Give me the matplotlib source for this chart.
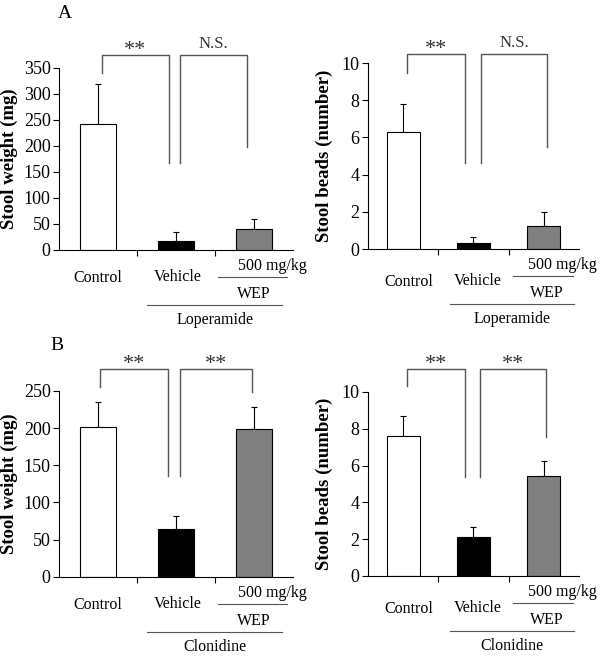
import numpy as np
import matplotlib
matplotlib.use("Agg")
import matplotlib.pyplot as plt
from matplotlib.transforms import blended_transform_factory, offset_copy

plt.rcParams['font.family'] = ['Liberation Serif', 'DejaVu Serif']

# --- data ---
groups = ["Control", "Vehicle", "WEP"]
bar_colors = ["white", "black", "#808080"]

weight_lop = [243, 18, 40]
weight_lop_err = [76, 17, 20]
beads_lop = [6.3, 0.3, 1.24]
beads_lop_err = [1.48, 0.33, 0.73]

weight_clo = [202, 64, 199]
weight_clo_err = [33, 18, 30]
beads_clo = [7.62, 2.14, 5.45]
beads_clo_err = [1.08, 0.54, 0.82]

# significance marks: (label, x0, x1, bracket y, left leg end, right leg end)
sig_weight_lop = [("**", 0.05, 0.91, 375, 340, 167), ("N.S.", 1.05, 1.91, 375, 167, 198)]
sig_beads_lop = [("**", 0.055, 0.88, 10.47, 9.46, 4.6), ("N.S.", 1.11, 2.05, 10.47, 4.6, 5.5)]
sig_weight_clo = [("**", 0.03, 0.90, 279.5, 255, 135), ("**", 1.05, 1.97, 279.5, 135, 249)]
sig_beads_clo = [("**", 0.05, 0.88, 11.25, 10.3, 5.4), ("**", 1.09, 2.03, 11.25, 5.4, 7.54)]

fig = plt.figure(figsize=(6, 6.56), dpi=100)

LINE_GRAY = "#555555"


def draw_panel(ax, means, errs, ymax, ystep, ylabel, sigs, treatment, side):
    x = np.arange(len(groups))
    ax.bar(x, means, width=0.47, color=bar_colors, edgecolor="black", linewidth=0.8, zorder=2)
    ax.errorbar(x, means, yerr=[np.zeros(len(errs)), errs], fmt="none",
                ecolor="black", elinewidth=0.8, capsize=2.2, capthick=0.8, zorder=1)
    ax.set_xlim(-0.5, 2.5)
    ax.set_ylim(0, ymax)
    ax.set_yticks(np.arange(0, ymax + ystep / 2, ystep))
    ax.set_xticks([0.5, 1.5])
    ax.set_xticklabels([])
    ax.tick_params(axis="x", direction="out", length=4, width=0.8)
    ax.tick_params(axis="y", direction="out", length=4, width=0.8, labelsize=13, pad=2)
    for s in ["top", "right"]:
        ax.spines[s].set_visible(False)
    for s in ["left", "bottom"]:
        ax.spines[s].set_linewidth(0.8)
    ax.set_ylabel(ylabel, fontsize=13.5, fontweight="bold")
    if side == "left":
        ax.yaxis.set_label_coords(-0.175, 0.5)
    else:
        ax.yaxis.set_label_coords(-0.166, 0.5)

    # significance brackets
    for lab, x0, x1, h, l0, l1 in sigs:
        ax.plot([x0, x0, x1, x1], [l0, h, h, l1], color=LINE_GRAY, lw=1.0, clip_on=False)
        if lab == "**":
            ax.annotate(lab, ((x0 + x1) / 2, h), xytext=(0, 0), textcoords="offset pixels",
                        ha="center", va="baseline", fontsize=16, color="#333333",
                        annotation_clip=False)
        else:
            ax.annotate(lab, ((x0 + x1) / 2, h), xytext=(0, 7), textcoords="offset pixels",
                        ha="center", va="baseline", fontsize=12, color="#333333",
                        annotation_clip=False)

    # group labels below the axis
    trans = blended_transform_factory(ax.transData, ax.transAxes)

    def at(dy):
        return offset_copy(trans, fig=fig, x=0, y=-dy, units="dots")

    if side == "left":
        cx, vx, d_cv = 0.0, 1.02, 28
        dose_x, dose_line, wep_x = 2.24, (1.54, 2.42), 2.0
        tr_line, tr_x = (0.63, 2.36), 1.5
    else:
        cx, vx, d_cv = 0.08, 1.06, 33
        dose_x, dose_line, wep_x = 2.27, (1.56, 2.42), 2.04
        tr_line, tr_x = (0.67, 2.43), 1.55
    fs = 11.5
    ax.text(cx, 0, groups[0], transform=at(d_cv), ha="center", va="center", fontsize=fs, clip_on=False)
    ax.text(vx, 0, groups[1], transform=at(d_cv - 1), ha="center", va="center", fontsize=fs, clip_on=False)
    ax.text(dose_x, 0, "500 mg/kg", transform=at(16), ha="center", va="center", fontsize=fs, clip_on=False)
    ax.plot(list(dose_line), [0, 0], transform=at(27), color=LINE_GRAY, lw=0.8, clip_on=False)
    ax.text(wep_x, 0, groups[2], transform=at(44), ha="center", va="center", fontsize=fs, clip_on=False)
    ax.plot(list(tr_line), [0, 0], transform=at(55), color=LINE_GRAY, lw=0.8, clip_on=False)
    ax.text(tr_x, 0, treatment, transform=at(70), ha="center", va="center", fontsize=fs, clip_on=False)


ax1 = fig.add_axes([0.0983, 0.619, 0.39, 0.2774])
draw_panel(ax1, weight_lop, weight_lop_err, 350, 50, "Stool weight (mg)", sig_weight_lop, "Loperamide", "left")
ax2 = fig.add_axes([0.6133, 0.6204, 0.3517, 0.2835])
draw_panel(ax2, beads_lop, beads_lop_err, 10, 2, "Stool beads (number)", sig_beads_lop, "Loperamide", "right")
ax3 = fig.add_axes([0.0983, 0.1209, 0.39, 0.2831])
draw_panel(ax3, weight_clo, weight_clo_err, 250, 50, "Stool weight (mg)", sig_weight_clo, "Clonidine", "left")
ax4 = fig.add_axes([0.6133, 0.122, 0.3517, 0.2805])
draw_panel(ax4, beads_clo, beads_clo_err, 10, 2, "Stool beads (number)", sig_beads_clo, "Clonidine", "right")

fig.text(0.108, 0.980, "A", fontsize=14, ha="center", va="center")
fig.text(0.095, 0.474, "B", fontsize=14, ha="center", va="center")

fig.savefig("out.png", dpi=100)
